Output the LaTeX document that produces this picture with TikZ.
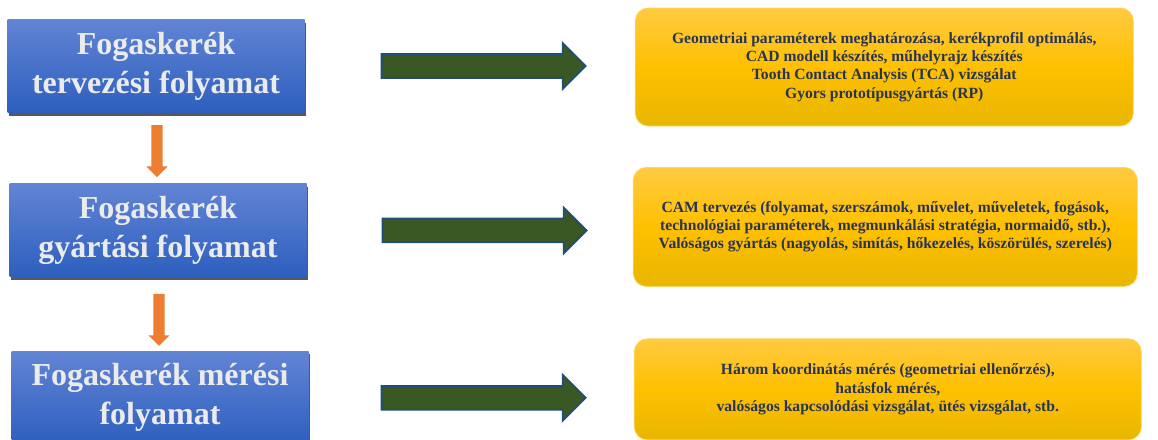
\documentclass[tikz,border=0pt]{standalone}
\usepackage{fontspec}
\setmainfont{Liberation Serif}
\usepackage{tikz}
\usetikzlibrary{positioning, calc, shapes.arrows, shadows}
\definecolor{proctop}{RGB}{98,132,212}
\definecolor{procbot}{RGB}{45,95,190}
\definecolor{tasktop}{RGB}{255,202,66}
\definecolor{taskmid}{RGB}{255,192,0}
\definecolor{taskbot}{RGB}{232,182,0}
\definecolor{taskline}{RGB}{255,214,90}
\definecolor{tasktext}{RGB}{40,52,84}
\definecolor{arrowgreen}{RGB}{58,88,35}
\definecolor{arrowblue}{RGB}{31,78,121}
\definecolor{arroworange}{RGB}{237,125,49}

\begin{document}
\begin{tikzpicture}[x=1pt,y=-1pt,
    proc node/.style={rectangle, minimum width=297pt, minimum height=93pt, inner sep=0pt,
      top color=proctop, bottom color=procbot, text=white!92!black, align=center,
      font=\fontsize{32}{39}\selectfont\bfseries,
      drop shadow={shadow xshift=1pt, shadow yshift=-3pt, fill=black!65, opacity=1}},
    task node/.style={rectangle, rounded corners=13pt, draw=taskline, line width=0.8pt,
      top color=tasktop, bottom color=taskbot, middle color=taskmid, text=tasktext,
      align=center, inner sep=0pt, font=\fontsize{15.6}{18.3}\selectfont\bfseries},
    flow arrow/.style={single arrow, fill=arrowgreen, draw=arrowblue, line width=1.8pt,
      minimum height=204pt, minimum width=44pt, single arrow head extend=11pt,
      inner xsep=0pt, inner ysep=11pt},
    down arrow/.style={single arrow, shape border rotate=270, fill=arroworange, draw=none,
      minimum height=52pt, minimum width=21pt, single arrow head extend=5pt, inner sep=5.5pt}]
    \useasboundingbox (0,0) rectangle (1158,439);
    \clip (0,0) rectangle (1158,439);

    \node[proc node] (b1) at (156,66) {Fogaskerék\\tervezési folyamat};
    \node[proc node, below=71pt of b1, xshift=2pt] (b2) {Fogaskerék\\gyártási folyamat};
    \node[proc node, below=74pt of b2, xshift=2pt] (b3) {Fogaskerék mérési\\folyamat};

    \node[down arrow] (d1) at ($(b1.south)!0.5!(b2.north)$) {};
    \node[down arrow, yshift=-3pt] (d2) at ($(b2.south)!0.5!(b3.north)$) {};

    \node[flow arrow, right=76pt of b1] (g1) {};
    \node[flow arrow, right=75pt of b2] (g2) {};
    \node[flow arrow, right=72pt of b3] (g3) {};

    \node[task node, right=48pt of g1, yshift=-1pt, minimum width=498pt, minimum height=118pt] (t1)
      {Geometriai paraméterek meghatározása, kerékprofil optimálás,\\
       CAD modell készítés, műhelyrajz készítés\\
       Tooth Contact Analysis (TCA) vizsgálat\\
       Gyors prototípusgyártás (RP)};
    \node[task node, right=45pt of g2, yshift=3.5pt, minimum width=504pt, minimum height=119pt] (t2)
      {CAM tervezés (folyamat, szerszámok, művelet, műveletek, fogások,\\
       technológiai paraméterek, megmunkálási stratégia, normaidő, stb.),\\
       Valóságos gyártás (nagyolás, simítás, hőkezelés, köszörülés, szerelés)};
    \node[task node, right=47pt of g3, yshift=8.5pt, minimum width=507pt, minimum height=101pt] (t3)
      {Három koordinátás mérés (geometriai ellenőrzés),\\
       hatásfok mérés,\\
       valóságos kapcsolódási vizsgálat, ütés vizsgálat, stb.};
\end{tikzpicture}
\end{document}
